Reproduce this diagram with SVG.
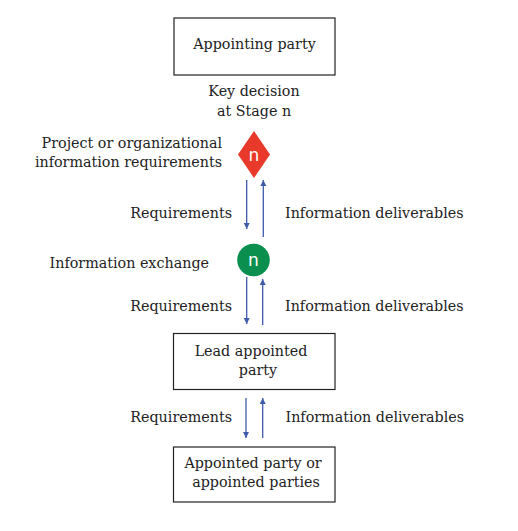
<svg xmlns="http://www.w3.org/2000/svg" width="518" height="531" viewBox="0 0 518 531">
<style>
text{font-family:"DejaVu Serif","Liberation Serif",serif;font-size:14.3px;fill:#222}
.box{fill:#fff;stroke:#222;stroke-width:1.2}
.c{text-anchor:middle}
.r{text-anchor:end}
.n{font-family:"DejaVu Sans","Liberation Sans",sans-serif;font-size:17px;fill:#fff;text-anchor:middle}
.ar{stroke:#3F5BAA;stroke-width:1.3;fill:none;marker-end:url(#ah)}
</style>
<defs>
<marker id="ah" viewBox="0 0 10 10" refX="10" refY="5" markerWidth="6" markerHeight="8" markerUnits="userSpaceOnUse" orient="auto">
<path d="M0,0 L10,5 L0,10 Z" fill="#3F5BAA"/>
</marker>
</defs>
<rect width="518" height="531" fill="#fff"/>
<g id="appointing-party">
<rect class="box" x="174" y="18" width="161" height="57"/>
<text class="c" x="254.5" y="49">Appointing party</text>
</g>
<g id="key-decision-label">
<text class="c" x="254" y="96">Key decision</text>
<text class="c" x="254" y="116">at Stage n</text>
</g>
<g id="key-decision">
<path d="M254,131 L270,154.5 L254,178 L238,154.5 Z" fill="#E8392A"/>
<text class="n" x="254" y="160.5">n</text>
<text class="r" x="222" y="148">Project or organizational</text>
<text class="r" x="222" y="167">information requirements</text>
</g>
<g id="information-exchange">
<circle cx="253.5" cy="260" r="16.3" fill="#0A8F4E"/>
<text class="n" x="253.5" y="266">n</text>
<text class="r" x="209" y="268">Information exchange</text>
</g>
<g id="lead-appointed-party">
<rect class="box" x="173.5" y="333.5" width="161.5" height="56"/>
<text class="c" x="251" y="356">Lead appointed</text>
<text class="c" x="258" y="375">party</text>
</g>
<g id="appointed-parties">
<rect class="box" x="173.5" y="447" width="161.5" height="55"/>
<text class="c" x="253" y="468">Appointed party or</text>
<text class="c" x="256" y="487">appointed parties</text>
</g>
<g id="connectors">
<line class="ar" x1="246.7" y1="180" x2="246.7" y2="229"/>
<line class="ar" x1="263.3" y1="237" x2="263.3" y2="180"/>
<line class="ar" x1="246.7" y1="277" x2="246.7" y2="324"/>
<line class="ar" x1="262.7" y1="325" x2="262.7" y2="279"/>
<line class="ar" x1="246" y1="398" x2="246" y2="438"/>
<line class="ar" x1="262.7" y1="438" x2="262.7" y2="398"/>
<text class="r" x="232" y="218">Requirements</text>
<text x="285" y="218">Information deliverables</text>
<text class="r" x="232" y="311">Requirements</text>
<text x="285" y="311">Information deliverables</text>
<text class="r" x="232" y="421.5">Requirements</text>
<text x="285.5" y="421.5">Information deliverables</text>
</g>
</svg>
